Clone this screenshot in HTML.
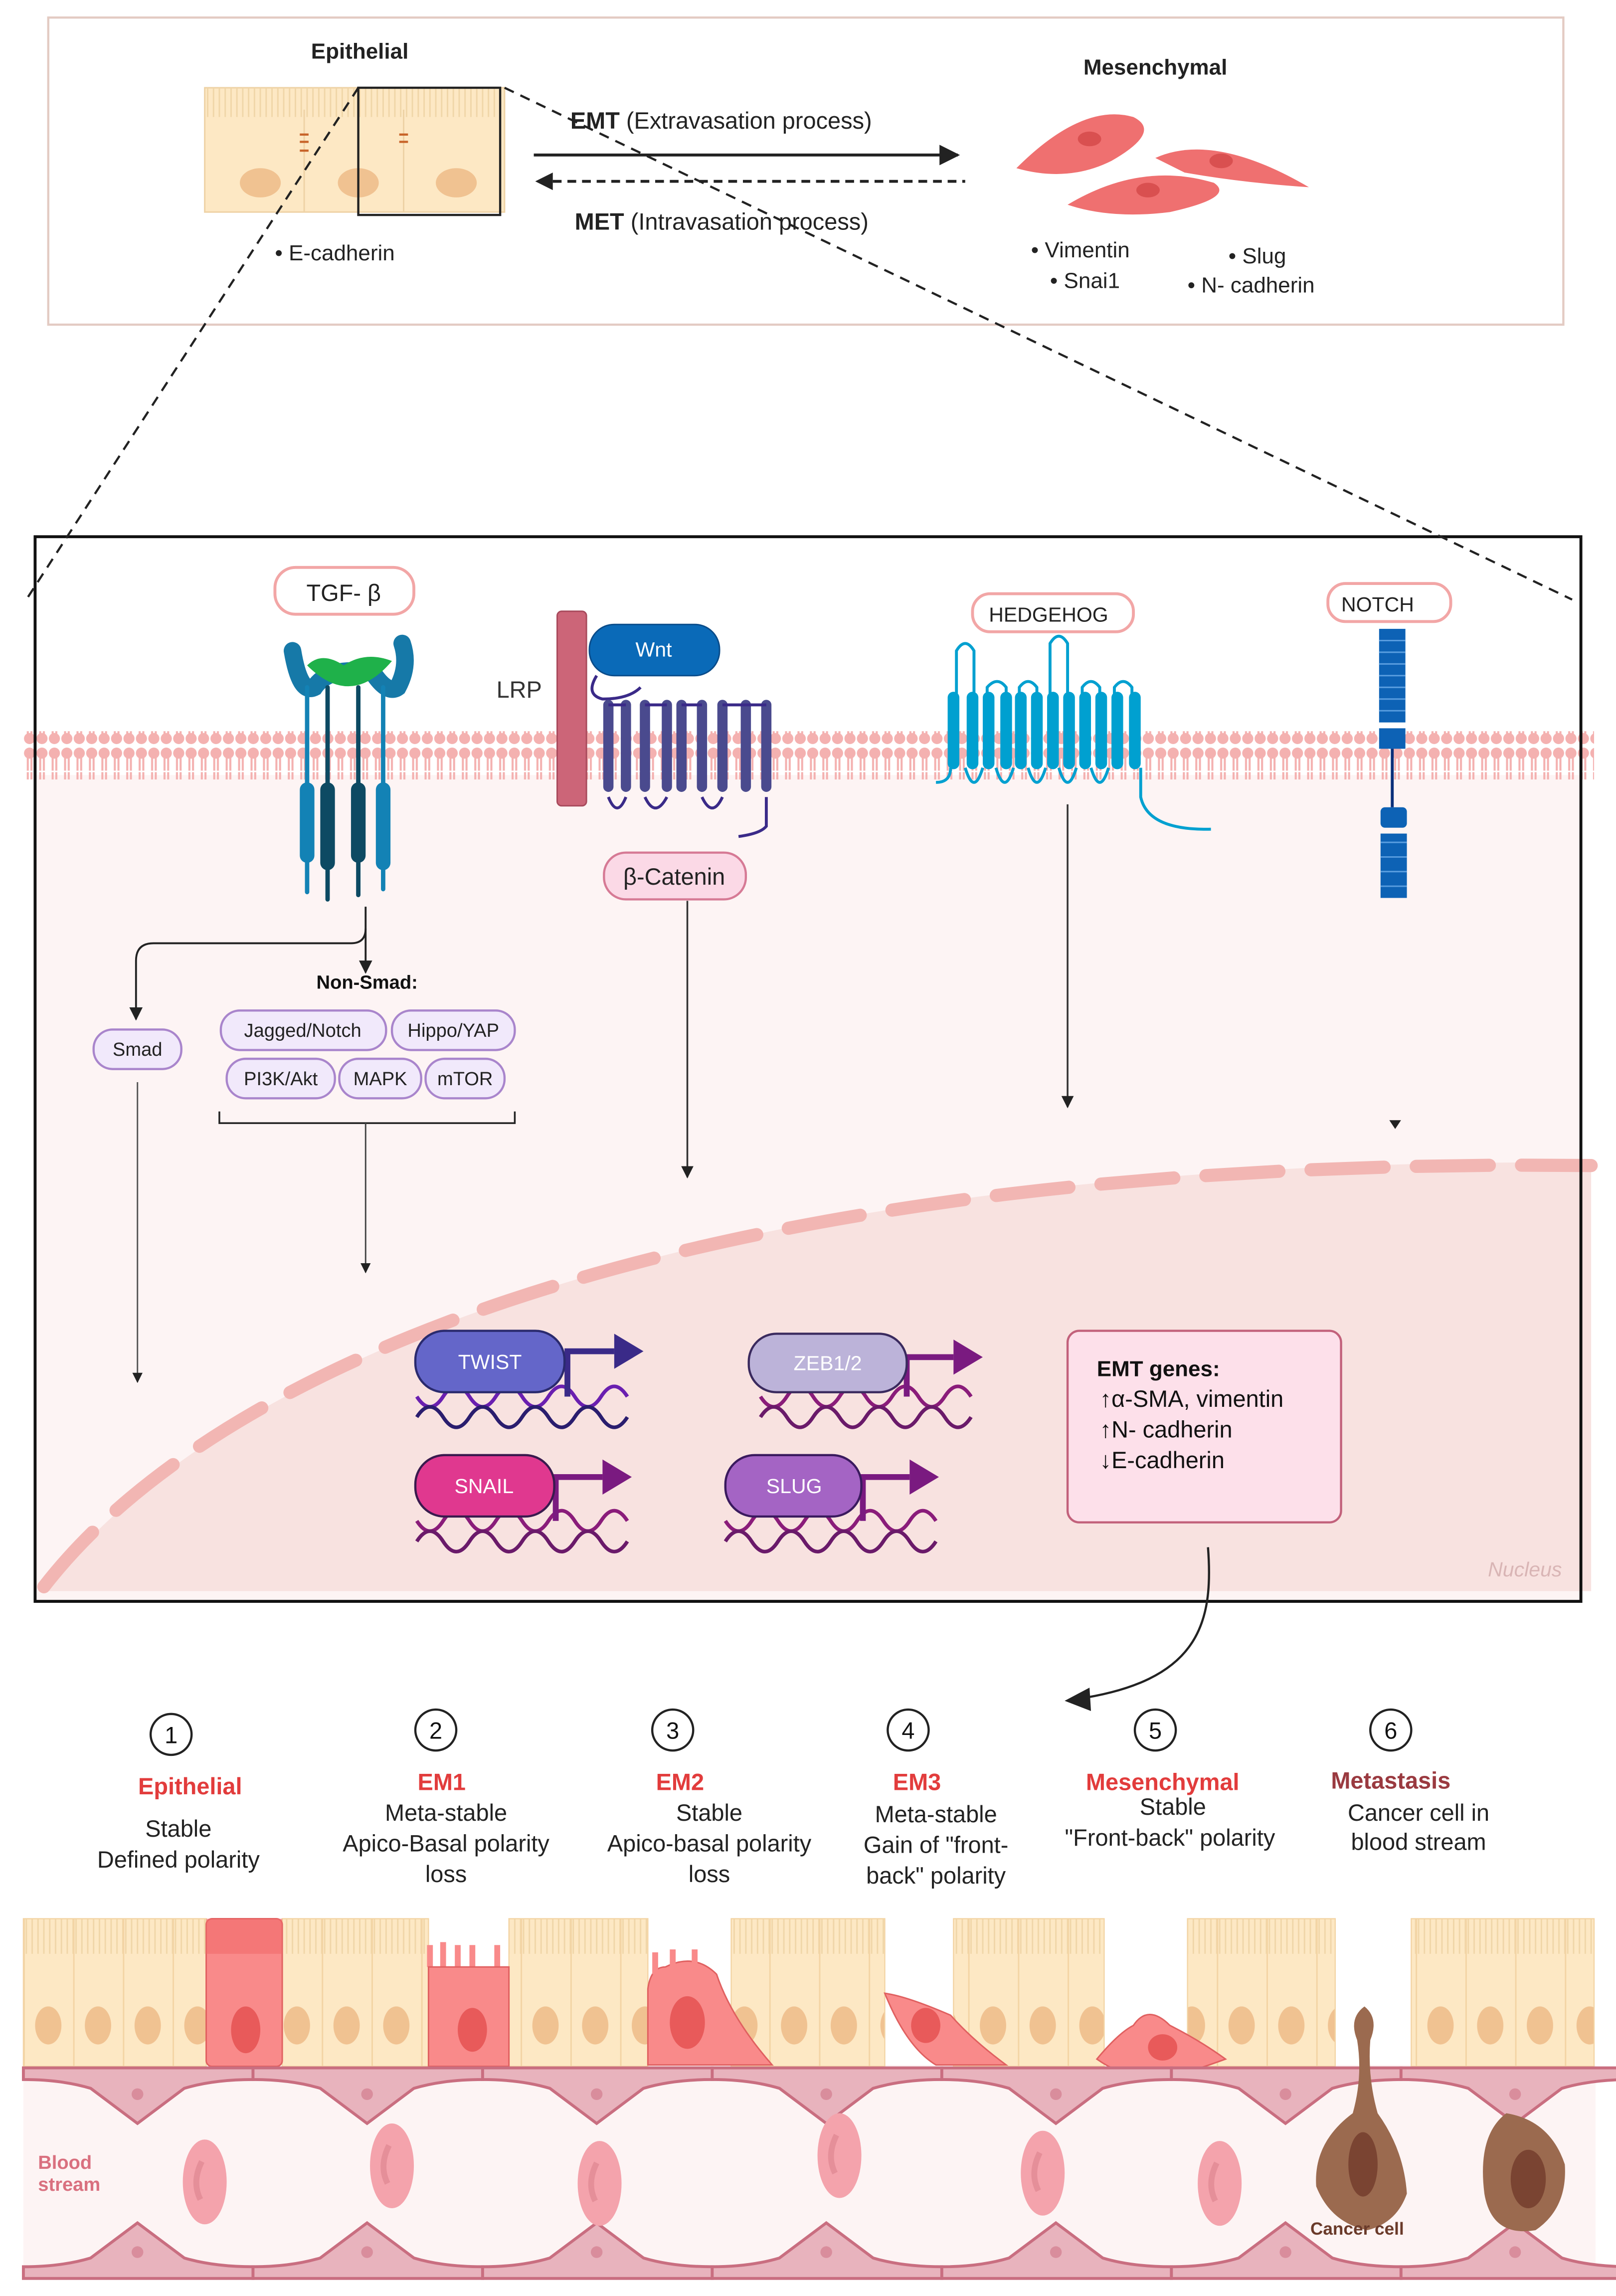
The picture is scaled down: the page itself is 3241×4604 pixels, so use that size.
<!DOCTYPE html>
<html><head><meta charset="utf-8"><style>
html,body{margin:0;padding:0;background:#fff;}
svg{display:block;}
text{font-family:"Liberation Sans",sans-serif;}
</style></head><body>
<svg width="3241" height="4604" viewBox="0 0 1105 1570" preserveAspectRatio="none" xmlns="http://www.w3.org/2000/svg">
<defs>
<pattern id="mem" x="16" y="0" width="8.5" height="34" patternUnits="userSpaceOnUse">
 <circle cx="4.2" cy="5" r="3.8" fill="#f4b1b0"/>
 <line x1="3" y1="8" x2="3" y2="17" stroke="#f4b1b0" stroke-width="1.4"/>
 <line x1="5.5" y1="8" x2="5.5" y2="17" stroke="#f4b1b0" stroke-width="1.4"/>
 <line x1="3" y1="18" x2="3" y2="26" stroke="#f4b1b0" stroke-width="1.4"/>
 <line x1="5.5" y1="18" x2="5.5" y2="26" stroke="#f4b1b0" stroke-width="1.4"/>
 <circle cx="4.2" cy="29" r="3.8" fill="#f4b1b0"/>
</pattern>
<pattern id="cil" x="0" y="0" width="4" height="30" patternUnits="userSpaceOnUse">
 <line x1="2" y1="0" x2="2" y2="28" stroke="#f0d6a8" stroke-width="1"/>
</pattern>
<pattern id="epi" x="16" y="1312" width="34" height="101" patternUnits="userSpaceOnUse">
 <rect x="0" y="0" width="34" height="101" fill="#fde8c4"/>
 <rect x="0" y="0" width="34" height="24" fill="url(#cil)"/>
 <line x1="0.5" y1="0" x2="0.5" y2="101" stroke="#f3d4a4" stroke-width="1"/>
 <ellipse cx="17" cy="73" rx="9" ry="13" fill="#f0c291"/>
</pattern>
<marker id="ah" viewBox="0 0 10 10" refX="9" refY="5" markerWidth="7" markerHeight="7" orient="auto"><path d="M0 0L10 5L0 10z" fill="#222"/></marker>
<g id="rbc"><ellipse cx="0" cy="0" rx="15" ry="29" fill="#f4a3ac"/><path d="M-2 -14 Q-9 0 -3 12" stroke="#e58f99" stroke-width="4" fill="none"/></g>
<g id="endo"><path d="M0 0 H157 V8 Q130 8 110 14 L78 38 L46 14 Q26 8 0 8 Z" fill="#e8b3bd" stroke="#c96e80" stroke-width="2"/><circle cx="78" cy="18" r="4" fill="#d98d9c"/></g>
<g id="endo2"><path d="M0 0 H157 V-8 Q130 -8 110 -14 L78 -38 L46 -14 Q26 -8 0 -8 Z" fill="#e8b3bd" stroke="#c96e80" stroke-width="2"/><circle cx="78" cy="-18" r="4" fill="#d98d9c"/></g>
</defs>

<!-- TOP BOX -->
<rect x="33" y="12" width="1036" height="210" fill="#fff" stroke="#e3cbc3" stroke-width="1.5"/>
<text x="246" y="40" font-size="15" font-weight="bold" text-anchor="middle" fill="#222">Epithelial</text>
<g>
 <rect x="140" y="60" width="205" height="85" fill="#fde8c4" stroke="#eed2a5"/>
 <rect x="140" y="60" width="205" height="20" fill="url(#cil)"/>
 <line x1="208" y1="75" x2="208" y2="145" stroke="#eed2a5"/><line x1="276" y1="75" x2="276" y2="145" stroke="#eed2a5"/>
 <ellipse cx="178" cy="125" rx="14" ry="10" fill="#f0c291"/><ellipse cx="245" cy="125" rx="14" ry="10" fill="#f0c291"/><ellipse cx="312" cy="125" rx="14" ry="10" fill="#f0c291"/>
 <path d="M205 92h6M205 97h6M205 103h6M273 92h6M273 97h6" stroke="#c8642a" stroke-width="1.5"/>
 <rect x="245" y="60" width="97" height="87" fill="none" stroke="#222" stroke-width="1.5"/>
</g>
<text x="188" y="178" font-size="15" fill="#222">• E-cadherin</text>
<text x="790" y="51" font-size="15" font-weight="bold" text-anchor="middle" fill="#222">Mesenchymal</text>
<path d="M695 115 Q740 70 775 80 Q795 90 760 110 Q730 125 695 115Z" fill="#ef7070"/>
<path d="M730 140 Q780 110 830 125 Q845 135 800 145 Q760 150 730 140Z" fill="#ef7070"/>
<path d="M790 108 Q830 90 895 128 Q850 125 810 118Z" fill="#ef7070"/>
<ellipse cx="745" cy="95" rx="8" ry="5" fill="#d95050"/><ellipse cx="785" cy="130" rx="8" ry="5" fill="#d95050"/><ellipse cx="835" cy="110" rx="8" ry="5" fill="#d95050"/>
<text x="705" y="176" font-size="15" fill="#222">• Vimentin</text>
<text x="718" y="197" font-size="15" fill="#222">• Snai1</text>
<text x="840" y="180" font-size="15" fill="#222">• Slug</text>
<text x="812" y="200" font-size="15" fill="#222">• N- cadherin</text>
<text x="390" y="88" font-size="16" fill="#222"><tspan font-weight="bold">EMT</tspan> (Extravasation process)</text>
<line x1="365" y1="106" x2="655" y2="106" stroke="#222" stroke-width="2" marker-end="url(#ah)"/>
<line x1="368" y1="124" x2="660" y2="124" stroke="#222" stroke-width="2" stroke-dasharray="6 4"/>
<path d="M378 118 L366 124 L378 130z" fill="#222"/>
<text x="393" y="157" font-size="16" fill="#222"><tspan font-weight="bold">MET</tspan> (Intravasation process)</text>

<!-- MAIN BOX -->
<rect x="24" y="367" width="1057" height="728" fill="#fff"/>
<rect x="24" y="530" width="1057" height="565" fill="#fdf4f4"/>
<path d="M30 1088 C150 930 480 790 1088 795 L1088 1088 Z" fill="#f8e2e0"/>
<path d="M30 1085 C150 930 480 790 1088 797" fill="none" stroke="#f2b6b3" stroke-width="9" stroke-linecap="round" stroke-dasharray="50 22"/>
<rect x="16" y="500" width="1074" height="33" fill="url(#mem)"/>
<rect x="24" y="367" width="1057" height="728" fill="none" stroke="#111" stroke-width="2"/>
<line x1="245" y1="60" x2="18" y2="410" stroke="#222" stroke-width="1.5" stroke-dasharray="7 5"/>
<line x1="345" y1="60" x2="1075" y2="410" stroke="#222" stroke-width="1.5" stroke-dasharray="7 5"/>

<!-- TGF -->
<rect x="188" y="388" width="95" height="32" rx="14" fill="#fff" stroke="#f2a6a6" stroke-width="2"/>
<text x="235" y="411" font-size="16" text-anchor="middle" fill="#222">TGF- β</text>
<path d="M200 445 Q205 475 215 470 Q225 455 255 460 Q265 475 272 470 Q280 455 275 440" fill="none" stroke="#1679a8" stroke-width="12" stroke-linecap="round"/>
<path d="M210 455 Q240 485 268 452 Q250 445 235 455 Q220 445 210 455Z" fill="#1fb14a"/>
<g stroke-linecap="round">
<line x1="210" y1="470" x2="210" y2="610" stroke="#1382b5" stroke-width="3"/>
<line x1="224" y1="470" x2="224" y2="615" stroke="#0d4a63" stroke-width="3"/>
<line x1="245" y1="470" x2="245" y2="612" stroke="#0d4a63" stroke-width="3"/>
<line x1="262" y1="470" x2="262" y2="608" stroke="#1382b5" stroke-width="3"/>
<line x1="210" y1="540" x2="210" y2="585" stroke="#1382b5" stroke-width="10"/>
<line x1="224" y1="540" x2="224" y2="590" stroke="#0d4a63" stroke-width="10"/>
<line x1="245" y1="540" x2="245" y2="585" stroke="#0d4a63" stroke-width="10"/>
<line x1="262" y1="540" x2="262" y2="590" stroke="#1382b5" stroke-width="10"/>
</g>
<path d="M250 620 V635 Q250 645 240 645 H105 Q93 645 93 657 V697" fill="none" stroke="#222" stroke-width="1.3" marker-end="url(#ah)"/>
<line x1="250" y1="635" x2="250" y2="665" stroke="#222" stroke-width="1.3" marker-end="url(#ah)"/>
<text x="251" y="676" font-size="13" font-weight="bold" text-anchor="middle" fill="#111">Non-Smad:</text>
<rect x="64" y="704" width="60" height="27" rx="13" fill="#f1e9fb" stroke="#a985cc" stroke-width="1.5"/>
<text x="94" y="722" font-size="13" text-anchor="middle" fill="#222">Smad</text>
<g fill="#f1e9fb" stroke="#a985cc" stroke-width="1.5">
<rect x="151" y="691" width="113" height="27" rx="13"/><rect x="268" y="691" width="84" height="27" rx="13"/>
<rect x="155" y="724" width="74" height="27" rx="13"/><rect x="232" y="724" width="56" height="27" rx="13"/><rect x="291" y="724" width="54" height="27" rx="13"/>
</g>
<g font-size="13" text-anchor="middle" fill="#222">
<text x="207" y="709">Jagged/Notch</text><text x="310" y="709">Hippo/YAP</text>
<text x="192" y="742">PI3K/Akt</text><text x="260" y="742">MAPK</text><text x="318" y="742">mTOR</text>
</g>
<path d="M150 760 V768 H352 V760" fill="none" stroke="#222" stroke-width="1.2"/>
<line x1="250" y1="768" x2="250" y2="870" stroke="#444" stroke-width="1" marker-end="url(#ah)"/>
<line x1="94" y1="740" x2="94" y2="945" stroke="#555" stroke-width="1" marker-end="url(#ah)"/>

<!-- WNT -->
<rect x="381" y="418" width="20" height="133" rx="3" fill="#cc6578" stroke="#a84a5c"/>
<text x="355" y="477" font-size="16" text-anchor="middle" fill="#333">LRP</text>
<rect x="403" y="427" width="89" height="35" rx="17" fill="#0a6ab8" stroke="#0a4c8a"/>
<text x="447" y="449" font-size="14" text-anchor="middle" fill="#fff">Wnt</text>
<path d="M408 462 Q400 475 412 478 Q430 478 438 470" stroke="#3a2a88" stroke-width="2" fill="none"/>
<g stroke="#4a4a8e" stroke-width="7" stroke-linecap="round">
<line x1="416" y1="482" x2="416" y2="538"/><line x1="428" y1="482" x2="428" y2="538"/><line x1="441" y1="482" x2="441" y2="538"/>
<line x1="456" y1="482" x2="456" y2="538"/><line x1="466" y1="482" x2="466" y2="538"/><line x1="480" y1="482" x2="480" y2="538"/><line x1="494" y1="482" x2="494" y2="538"/><line x1="510" y1="482" x2="510" y2="538"/><line x1="524" y1="482" x2="524" y2="538"/>
</g>
<path d="M416 482 H428 M441 482 H456 M466 482 H480 M494 482 H510 M510 482 H524" stroke="#3a2a88" stroke-width="2" fill="none"/>
<path d="M416 545 Q422 560 428 545 M441 545 Q448 560 456 545 M480 545 Q487 560 494 545 M524 545 V565 Q520 570 505 572" stroke="#3a2a88" stroke-width="2" fill="none"/>
<rect x="413" y="583" width="97" height="32" rx="15" fill="#fbd9e6" stroke="#d67a95" stroke-width="1.5"/>
<text x="461" y="605" font-size="16" text-anchor="middle" fill="#222">β-Catenin</text>
<line x1="470" y1="616" x2="470" y2="805" stroke="#333" stroke-width="1.2" marker-end="url(#ah)"/>

<!-- HEDGEHOG -->
<rect x="665" y="406" width="110" height="26" rx="12" fill="#fff" stroke="#f2a6a6" stroke-width="2"/>
<text x="717" y="425" font-size="14" text-anchor="middle" fill="#222">HEDGEHOG</text>
<g stroke="#00a0d0" fill="none" stroke-width="2">
<path d="M654 490 V445 Q660 435 666 445 V490"/><path d="M675 490 V470 Q682 462 688 470 V490"/><path d="M697 490 V470 Q703 462 709 470 V490"/>
<path d="M718 490 V440 Q724 430 730 440 V490"/><path d="M740 490 V470 Q746 462 752 470 V490"/><path d="M762 490 V470 Q768 462 774 470 V490"/>
<path d="M640 535 Q650 535 650 525"/><path d="M660 525 Q666 545 672 525"/><path d="M681 525 Q687 545 693 525"/><path d="M703 525 Q709 545 715 525"/><path d="M724 525 Q730 545 736 525"/><path d="M746 525 Q752 545 758 525"/><path d="M780 525 V545 Q785 568 828 567"/>
</g>
<g stroke="#00a0d0" stroke-width="8" stroke-linecap="round">
<line x1="652" y1="477" x2="652" y2="522"/><line x1="665" y1="477" x2="665" y2="522"/><line x1="676" y1="477" x2="676" y2="522"/><line x1="688" y1="477" x2="688" y2="522"/><line x1="698" y1="477" x2="698" y2="522"/><line x1="709" y1="477" x2="709" y2="522"/><line x1="720" y1="477" x2="720" y2="522"/><line x1="731" y1="477" x2="731" y2="522"/><line x1="742" y1="477" x2="742" y2="522"/><line x1="753" y1="477" x2="753" y2="522"/><line x1="764" y1="477" x2="764" y2="522"/><line x1="776" y1="477" x2="776" y2="522"/>
</g>
<line x1="730" y1="550" x2="730" y2="757" stroke="#333" stroke-width="1.2" marker-end="url(#ah)"/>

<!-- NOTCH -->
<rect x="908" y="399" width="84" height="26" rx="12" fill="#fff" stroke="#f2a6a6" stroke-width="2"/>
<text x="942" y="418" font-size="14" text-anchor="middle" fill="#222">NOTCH</text>
<rect x="943" y="430" width="18" height="64" fill="#0d62b5"/>
<g stroke="#5a9ee0" stroke-width="1"><path d="M943 438h18M943 446h18M943 454h18M943 462h18M943 470h18M943 478h18M943 486h18"/></g>
<rect x="943" y="498" width="18" height="14" fill="#0d62b5"/>
<line x1="952" y1="512" x2="952" y2="552" stroke="#0a2f7a" stroke-width="2"/>
<rect x="944" y="552" width="18" height="14" rx="3" fill="#0d62b5"/>
<rect x="944" y="570" width="18" height="44" fill="#0d62b5"/>
<g stroke="#5a9ee0" stroke-width="1"><path d="M944 576h18M944 586h18M944 596h18M944 606h18"/></g>
<path d="M950 766 L958 766 L954 772z" fill="#222"/>

<!-- TFs -->
<g stroke-width="2.5" fill="none">
<path d="M285 955 q9 14 18 0 t18 0 t18 0 t18 0 t18 0 t18 0 t18 0 t18 0" stroke="#6a1fb0"/>
<path d="M285 969 q9 -14 18 0 t18 0 t18 0 t18 0 t18 0 t18 0 t18 0 t18 0" stroke="#2a1d6e"/>
<path d="M520 955 q9 14 18 0 t18 0 t18 0 t18 0 t18 0 t18 0 t18 0 t18 0" stroke="#8a1c7a"/>
<path d="M520 969 q9 -14 18 0 t18 0 t18 0 t18 0 t18 0 t18 0 t18 0 t18 0" stroke="#6a1a6a"/>
<path d="M285 1040 q9 14 18 0 t18 0 t18 0 t18 0 t18 0 t18 0 t18 0 t18 0" stroke="#8a1c7a"/>
<path d="M285 1054 q9 -14 18 0 t18 0 t18 0 t18 0 t18 0 t18 0 t18 0 t18 0" stroke="#6a1a6a"/>
<path d="M496 1040 q9 14 18 0 t18 0 t18 0 t18 0 t18 0 t18 0 t18 0 t18 0" stroke="#8a1c7a"/>
<path d="M496 1054 q9 -14 18 0 t18 0 t18 0 t18 0 t18 0 t18 0 t18 0 t18 0" stroke="#6a1a6a"/>
</g>
<g stroke-width="4" fill="none">
<path d="M388 955 V924 H420" stroke="#3a2a88"/><path d="M620 955 V928 H652" stroke="#7a1a80"/>
<path d="M380 1040 V1010 H412" stroke="#7a1a80"/><path d="M590 1040 V1010 H622" stroke="#7a1a80"/>
</g>
<path d="M420 912 L440 924 L420 936z" fill="#3a2a88"/><path d="M652 916 L672 928 L652 940z" fill="#7a1a80"/>
<path d="M412 998 L432 1010 L412 1022z" fill="#7a1a80"/><path d="M622 998 L642 1010 L622 1022z" fill="#7a1a80"/>
<rect x="284" y="910" width="102" height="42" rx="20" fill="#6466c9" stroke="#2a2a6e" stroke-width="1.5"/>
<text x="335" y="936" font-size="14" text-anchor="middle" fill="#fff">TWIST</text>
<rect x="512" y="912" width="108" height="40" rx="19" fill="#bcb3d9" stroke="#3a2a5e" stroke-width="1.5"/>
<text x="566" y="937" font-size="14" text-anchor="middle" fill="#fff">ZEB1/2</text>
<rect x="284" y="995" width="95" height="42" rx="20" fill="#e0388f" stroke="#3a1a4e" stroke-width="1.5"/>
<text x="331" y="1021" font-size="14" text-anchor="middle" fill="#fff">SNAIL</text>
<rect x="496" y="995" width="93" height="42" rx="20" fill="#a464c4" stroke="#3a1a5e" stroke-width="1.5"/>
<text x="543" y="1021" font-size="14" text-anchor="middle" fill="#fff">SLUG</text>
<rect x="730" y="910" width="187" height="131" rx="8" fill="#fde0ea" stroke="#c2617b" stroke-width="1.5"/>
<text x="750" y="941" font-size="15" font-weight="bold" fill="#111">EMT genes:</text>
<text x="752" y="962" font-size="16" fill="#111">↑α-SMA, vimentin</text>
<text x="752" y="983" font-size="16" fill="#111">↑N- cadherin</text>
<text x="752" y="1004" font-size="16" fill="#111">↓E-cadherin</text>
<text x="1068" y="1078" font-size="14" font-style="italic" text-anchor="end" fill="#d9b5b5">Nucleus</text>
<path d="M826 1058 C830 1110 820 1150 735 1162" fill="none" stroke="#222" stroke-width="1.5"/>
<path d="M745 1154 L728 1163 L746 1170z" fill="#222"/>

<!-- STAGES -->
<g fill="#fff" stroke="#222" stroke-width="1.5">
<circle cx="117" cy="1186" r="14"/><circle cx="298" cy="1183" r="14"/><circle cx="460" cy="1183" r="14"/><circle cx="621" cy="1183" r="14"/><circle cx="790" cy="1183" r="14"/><circle cx="951" cy="1183" r="14"/>
</g>
<g font-size="16" text-anchor="middle" fill="#111">
<text x="117" y="1192">1</text><text x="298" y="1189">2</text><text x="460" y="1189">3</text><text x="621" y="1189">4</text><text x="790" y="1189">5</text><text x="951" y="1189">6</text>
</g>
<g font-size="16" font-weight="bold" text-anchor="middle" fill="#e23c3c">
<text x="130" y="1227">Epithelial</text><text x="302" y="1224">EM1</text><text x="465" y="1224">EM2</text><text x="627" y="1224">EM3</text><text x="795" y="1224">Mesenchymal</text><text x="951" y="1223" fill="#9a3a40">Metastasis</text>
</g>
<g font-size="16" text-anchor="middle" fill="#222">
<text x="122" y="1256">Stable</text><text x="122" y="1277">Defined polarity</text>
<text x="305" y="1245">Meta-stable</text><text x="305" y="1266">Apico-Basal polarity</text><text x="305" y="1287">loss</text>
<text x="485" y="1245">Stable</text><text x="485" y="1266">Apico-basal polarity</text><text x="485" y="1287">loss</text>
<text x="640" y="1246">Meta-stable</text><text x="640" y="1267">Gain of "front-</text><text x="640" y="1288">back" polarity</text>
<text x="802" y="1241">Stable</text><text x="800" y="1262">"Front-back" polarity</text>
<text x="970" y="1245">Cancer cell in</text><text x="970" y="1265">blood stream</text>
</g>

<!-- TISSUE -->
<rect x="16" y="1412" width="1075" height="140" fill="#fdf4f4"/>
<g fill="url(#epi)" stroke="#f3d4a4" stroke-width="0.8">
<rect x="16" y="1312" width="125" height="101"/>
<rect x="193" y="1312" width="100" height="101"/>
<rect x="348" y="1312" width="95" height="101"/>
<rect x="500" y="1312" width="105" height="101"/>
<rect x="652" y="1312" width="103" height="101"/>
<rect x="812" y="1312" width="101" height="101"/>
<rect x="965" y="1312" width="125" height="101"/>
</g>
<rect x="141" y="1312" width="52" height="101" rx="4" fill="#f98a8a" stroke="#e06060"/>
<rect x="141" y="1312" width="52" height="24" fill="#f06a6a" opacity=".6"/>
<ellipse cx="168" cy="1388" rx="10" ry="16" fill="#e85a5a"/>
<path d="M294 1345 V1330 M303 1345 V1328 M313 1345 V1330 M323 1345 V1330 M340 1345 V1330" stroke="#f98a8a" stroke-width="4"/>
<rect x="293" y="1345" width="55" height="68" fill="#f98a8a" stroke="#e06060"/>
<ellipse cx="323" cy="1388" rx="10" ry="15" fill="#e85a5a"/>
<path d="M443 1360 Q445 1345 455 1345 Q475 1335 490 1350 Q500 1380 528 1412 L443 1412Z" fill="#f98a8a" stroke="#e06060"/>
<path d="M448 1350 V1335 M460 1345 V1333 M475 1345 V1333" stroke="#f98a8a" stroke-width="4"/>
<ellipse cx="470" cy="1383" rx="12" ry="18" fill="#e85a5a"/>
<path d="M605 1363 Q620 1365 650 1378 Q665 1395 688 1412 L640 1412 Q620 1400 605 1363Z" fill="#f98a8a" stroke="#e06060"/>
<ellipse cx="633" cy="1385" rx="10" ry="12" fill="#e85a5a"/>
<path d="M750 1408 Q765 1390 775 1385 Q785 1370 800 1385 Q820 1395 838 1408 Q800 1422 790 1420 Q770 1422 750 1408Z" fill="#f98a8a" stroke="#e06060"/>
<ellipse cx="795" cy="1400" rx="10" ry="9" fill="#e85a5a"/>
<g>
<use href="#endo" x="16" y="1414"/><use href="#endo" x="173" y="1414"/><use href="#endo" x="330" y="1414"/><use href="#endo" x="487" y="1414"/><use href="#endo" x="644" y="1414"/><use href="#endo" x="801" y="1414"/><use href="#endo" x="958" y="1414"/>
<use href="#endo2" x="16" y="1558"/><use href="#endo2" x="173" y="1558"/><use href="#endo2" x="330" y="1558"/><use href="#endo2" x="487" y="1558"/><use href="#endo2" x="644" y="1558"/><use href="#endo2" x="801" y="1558"/><use href="#endo2" x="958" y="1558"/>
</g>
<use href="#rbc" x="140" y="1492"/><use href="#rbc" x="268" y="1481"/><use href="#rbc" x="410" y="1493"/><use href="#rbc" x="574" y="1474"/><use href="#rbc" x="713" y="1486"/><use href="#rbc" x="834" y="1493"/>
<text x="26" y="1483" font-size="13" font-weight="bold" fill="#d9707f">Blood</text>
<text x="26" y="1498" font-size="13" font-weight="bold" fill="#d9707f">stream</text>
<path d="M933 1372 Q943 1380 937 1395 Q935 1420 942 1445 Q960 1470 962 1500 Q955 1520 935 1525 Q910 1520 900 1495 Q898 1465 925 1445 Q932 1420 928 1395 Q922 1380 933 1372Z" fill="#9b6a4f"/>
<ellipse cx="932" cy="1480" rx="10" ry="22" fill="#7a4432"/>
<path d="M1030 1445 Q1060 1450 1070 1480 Q1072 1510 1050 1525 Q1020 1530 1015 1500 Q1010 1460 1030 1445Z" fill="#9b6a4f"/>
<ellipse cx="1045" cy="1490" rx="12" ry="20" fill="#7a4432"/>
<text x="928" y="1528" font-size="12" font-weight="bold" text-anchor="middle" fill="#6a3a2a">Cancer cell</text>
</svg>
</body></html>
